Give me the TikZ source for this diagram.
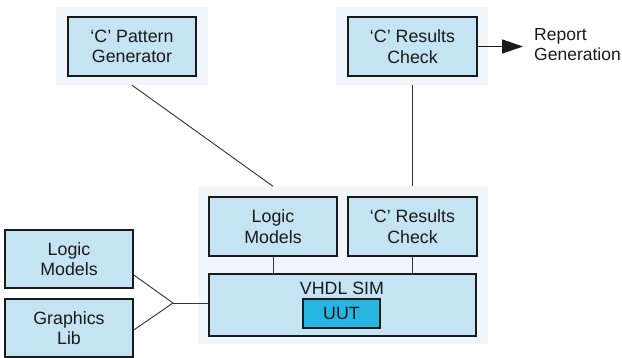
\documentclass[tikz,border=0pt]{standalone}
\usepackage{fontspec}
\setmainfont{Liberation Sans}
\usetikzlibrary{arrows.meta,positioning}
\definecolor{inkBlack}{HTML}{1a1a1a}
\definecolor{boxBlue}{HTML}{c4e3f3}
\definecolor{panelTint}{HTML}{f0f6fa}
\definecolor{uutCyan}{HTML}{27b5e1}
\definecolor{wireGrey}{HTML}{333333}
\tikzset{
  panel/.style={fill=panelTint,draw=none,inner sep=0pt},
  block/.style={draw=inkBlack,line width=1.6pt,fill=boxBlue,align=center,
    inner sep=0pt,text=inkBlack,font=\fontsize{17.8}{20.5}\selectfont},
  wire/.style={draw=wireGrey,line width=0.9pt},
  plain/.style={inner sep=0pt,text=inkBlack,font=\fontsize{17.5}{20.5}\selectfont}
}

\begin{document}
\begin{tikzpicture}[x=1pt,y=-1pt]
\useasboundingbox (0,0) rectangle (622,358);
% tinted panels behind the groups
\node[panel,minimum width=152pt,minimum height=78pt] (genPanel) at (132,46) {};
\node[panel,minimum width=152pt,minimum height=78pt] (chkPanel) at (412,46) {};
\node[panel,minimum width=290pt,minimum height=158pt] (simPanel) at (343,265.5) {};
% blocks
\node[block,minimum width=128pt,minimum height=59pt] (gen) at (132,46.5) {`C' Pattern\\Generator};
\node[block,minimum width=129pt,minimum height=59pt] (chkTop) at (412.5,46.5) {`C' Results\\Check};
\node[block,minimum width=128pt,minimum height=59pt] (logicIn) at (273,226.5) {Logic\\Models};
\node[block,minimum width=129pt,minimum height=59pt] (chkIn) at (412.5,226.5) {`C' Results\\Check};
\node[block,minimum width=267pt,minimum height=62pt] (vhdl) at (342.5,305) {};
\node[plain,font=\fontsize{17.8}{20.5}\selectfont] (vhdlText) at (342,288.5) {VHDL SIM};
\node[block,fill=uutCyan,minimum width=77pt,minimum height=29pt] (uut) at (341.5,313.5) {UUT};
\node[block,minimum width=128pt,minimum height=58pt] (logicOut) at (69,259) {Logic\\Models};
\node[block,minimum width=128pt,minimum height=58pt] (gfxLib) at (69,328) {Graphics\\Lib};
\node[plain,anchor=west,align=left] (report) at (534,44.5) {Report\\Generation};
\coordinate (junction) at (173,303);
% connectors
\draw[wire] (genPanel.south) -- (simPanel.north -| logicIn.north);
\draw[wire] (chkPanel.south -| chkTop.south) -- (simPanel.north -| chkIn.north);
\draw[wire] (logicIn.south) -- (vhdl.north -| logicIn.south);
\draw[wire] (chkIn.south) -- (vhdl.north -| chkIn.south);
\draw[wire] ([yshift=-16pt]logicOut.east) -- (junction) -- ([yshift=-2pt]gfxLib.east);
\draw[wire] (junction) -- (vhdl.west |- junction);
\draw[wire,draw=inkBlack,line width=1.4pt,-{Triangle[length=21pt,width=14pt]},shorten >=11pt]
  (chkTop.east) -- (chkTop.east -| report.west);
\end{tikzpicture}
\end{document}
